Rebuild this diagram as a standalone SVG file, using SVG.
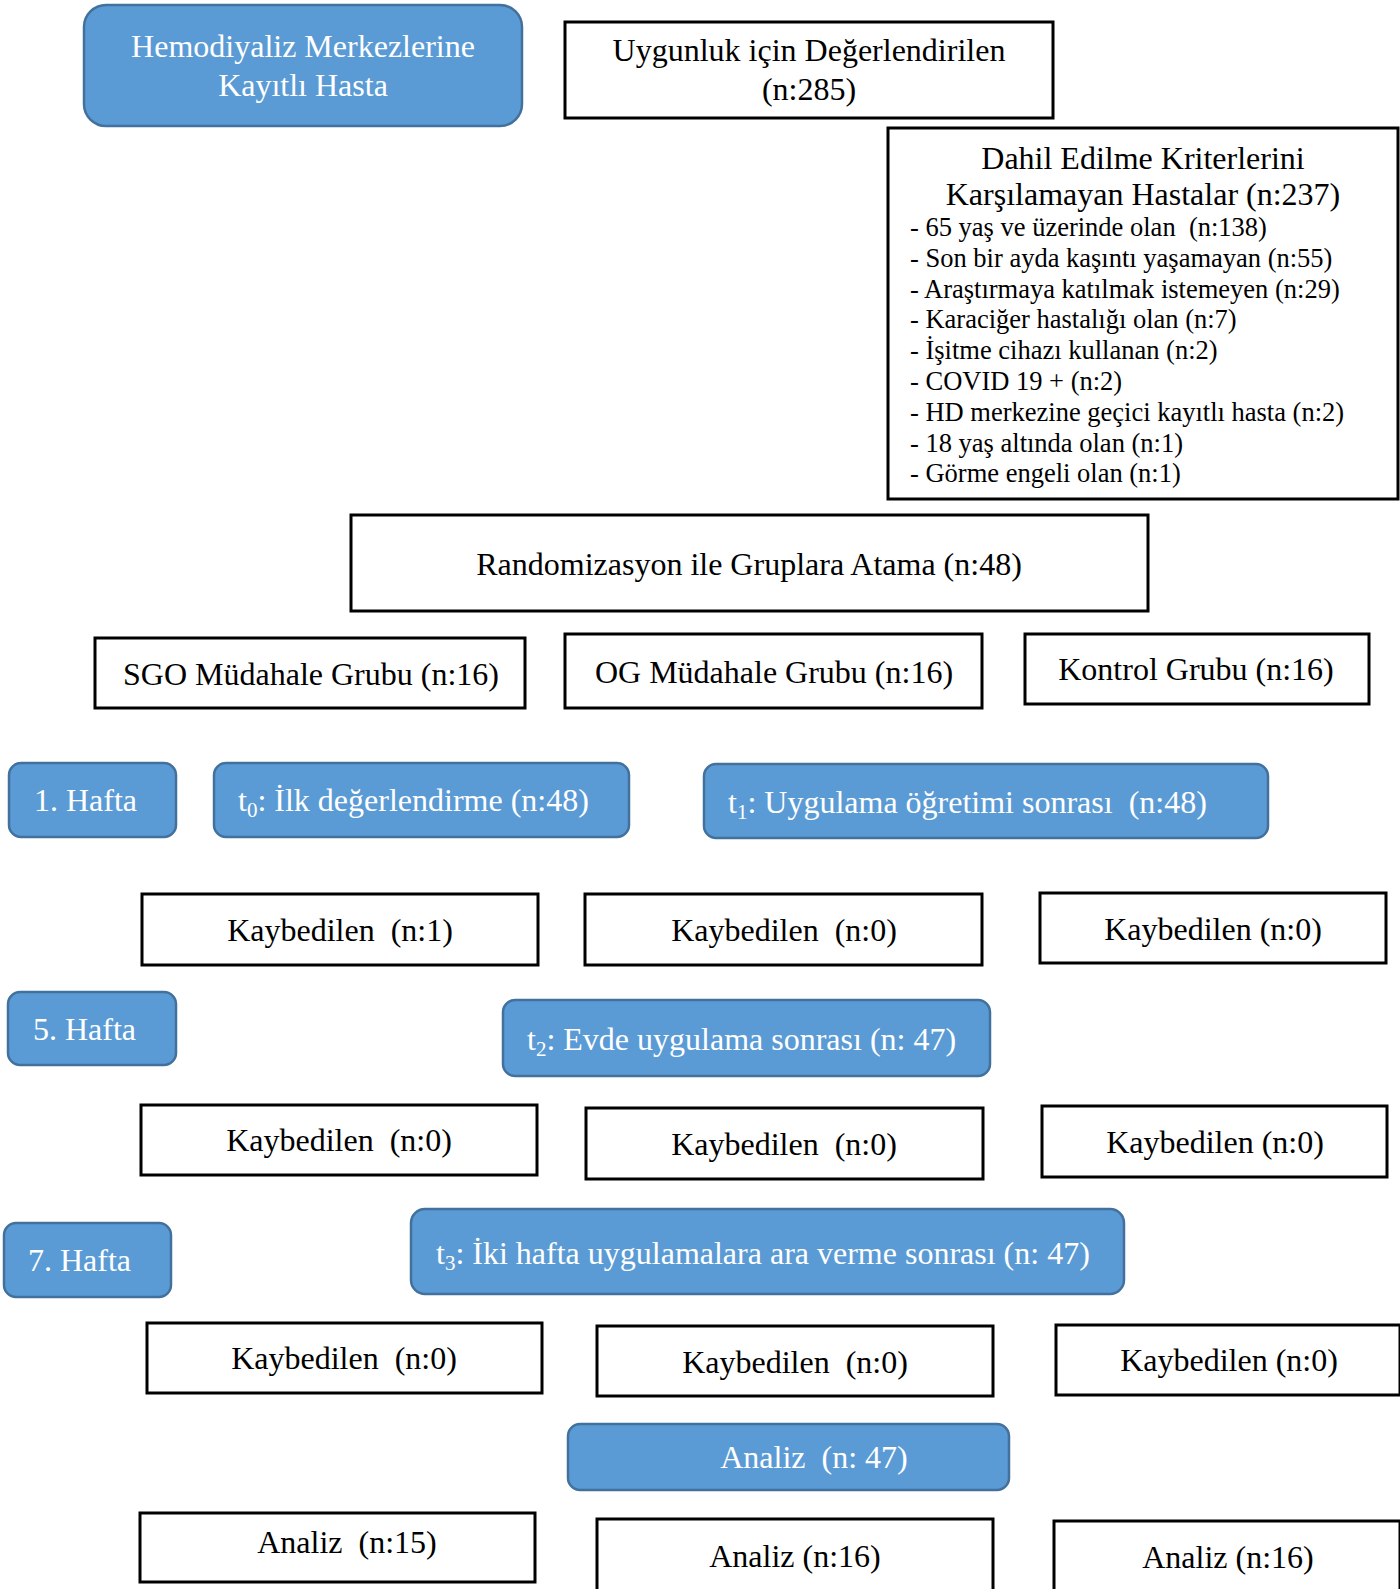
<svg xmlns="http://www.w3.org/2000/svg" width="1400" height="1589" viewBox="0 0 1400 1589">
<style>
text{font-family:"Liberation Serif","Times New Roman",serif;font-size:32px;white-space:pre}
.b{fill:#5B9BD5;stroke:#41719C;stroke-width:2.5}
.w{fill:#ffffff;stroke:#000000;stroke-width:3}
.tw{fill:#ffffff}
.tk{fill:#000000}
.c{text-anchor:middle}
.l{font-size:26.5px}
</style>
<rect width="1400" height="1589" fill="#ffffff"/>
<g id="connectors"></g>
<g id="hemodiyaliz"><rect class="b" x="84" y="5" width="438" height="121" rx="22"/><text class="tw c" x="303" y="57">Hemodiyaliz Merkezlerine</text><text class="tw c" x="303" y="96">Kayıtlı Hasta</text></g>
<g id="uygunluk"><rect class="w" x="565" y="22" width="488" height="96"/><text class="tk c" x="809" y="61">Uygunluk için Değerlendirilen</text><text class="tk c" x="809" y="100">(n:285)</text></g>
<g id="dahil"><rect class="w" x="888" y="128" width="510" height="371"/><text class="tk c" x="1143" y="169">Dahil Edilme Kriterlerini</text><text class="tk c" x="1143" y="205">Karşılamayan Hastalar (n:237)</text>
<text class="tk l" x="910" y="236">- 65 yaş ve üzerinde olan  (n:138)</text>
<text class="tk l" x="910" y="267">- Son bir ayda kaşıntı yaşamayan (n:55)</text>
<text class="tk l" x="910" y="298">- Araştırmaya katılmak istemeyen (n:29)</text>
<text class="tk l" x="910" y="328">- Karaciğer hastalığı olan (n:7)</text>
<text class="tk l" x="910" y="359">- İşitme cihazı kullanan (n:2)</text>
<text class="tk l" x="910" y="390">- COVID 19 + (n:2)</text>
<text class="tk l" x="910" y="421">- HD merkezine geçici kayıtlı hasta (n:2)</text>
<text class="tk l" x="910" y="452">- 18 yaş altında olan (n:1)</text>
<text class="tk l" x="910" y="482">- Görme engeli olan (n:1)</text></g>
<g id="randomizasyon"><rect class="w" x="351" y="515" width="797" height="96"/><text class="tk c" x="749" y="575">Randomizasyon ile Gruplara Atama (n:48)</text></g>
<g id="sgo"><rect class="w" x="95" y="638" width="430" height="70"/><text class="tk c" x="311" y="685">SGO Müdahale Grubu (n:16)</text></g>
<g id="og"><rect class="w" x="565" y="634" width="417" height="74"/><text class="tk c" x="774" y="683">OG Müdahale Grubu (n:16)</text></g>
<g id="kontrol"><rect class="w" x="1025" y="634" width="344" height="70"/><text class="tk c" x="1196" y="680">Kontrol Grubu (n:16)</text></g>
<g id="hafta1"><rect class="b" x="9" y="763" width="167" height="74" rx="12"/><text class="tw" x="34" y="811">1. Hafta</text></g>
<g id="t0"><rect class="b" x="214" y="763" width="415" height="74" rx="12"/><text class="tw" x="238" y="811">t<tspan font-size="21" dy="6">0</tspan><tspan dy="-6">: İlk değerlendirme (n:48)</tspan></text></g>
<g id="t1"><rect class="b" x="704" y="764" width="564" height="74" rx="12"/><text class="tw" x="728" y="813">t<tspan font-size="21" dy="6">1</tspan><tspan dy="-6">: Uygulama öğretimi sonrası  (n:48)</tspan></text></g>
<g id="k11"><rect class="w" x="142" y="894" width="396" height="71"/><text class="tk c" x="340" y="941">Kaybedilen  (n:1)</text></g>
<g id="k12"><rect class="w" x="585" y="894" width="397" height="71"/><text class="tk c" x="784" y="941">Kaybedilen  (n:0)</text></g>
<g id="k13"><rect class="w" x="1040" y="893" width="346" height="70"/><text class="tk c" x="1213" y="940">Kaybedilen (n:0)</text></g>
<g id="hafta5"><rect class="b" x="8" y="992" width="168" height="73" rx="12"/><text class="tw" x="33" y="1040">5. Hafta</text></g>
<g id="t2"><rect class="b" x="503" y="1000" width="487" height="76" rx="12"/><text class="tw" x="527" y="1050">t<tspan font-size="21" dy="6">2</tspan><tspan dy="-6">: Evde uygulama sonrası (n: 47)</tspan></text></g>
<g id="k21"><rect class="w" x="141" y="1105" width="396" height="70"/><text class="tk c" x="339" y="1151">Kaybedilen  (n:0)</text></g>
<g id="k22"><rect class="w" x="586" y="1108" width="397" height="71"/><text class="tk c" x="784" y="1155">Kaybedilen  (n:0)</text></g>
<g id="k23"><rect class="w" x="1042" y="1106" width="345" height="71"/><text class="tk c" x="1215" y="1153">Kaybedilen (n:0)</text></g>
<g id="hafta7"><rect class="b" x="4" y="1223" width="167" height="74" rx="12"/><text class="tw" x="28" y="1271">7. Hafta</text></g>
<g id="t3"><rect class="b" x="411" y="1209" width="713" height="85" rx="14"/><text class="tw" x="436" y="1264">t<tspan font-size="21" dy="6">3</tspan><tspan dy="-6">: İki hafta uygulamalara ara verme sonrası (n: 47)</tspan></text></g>
<g id="k31"><rect class="w" x="147" y="1323" width="395" height="70"/><text class="tk c" x="344" y="1369">Kaybedilen  (n:0)</text></g>
<g id="k32"><rect class="w" x="597" y="1326" width="396" height="70"/><text class="tk c" x="795" y="1373">Kaybedilen  (n:0)</text></g>
<g id="k33"><rect class="w" x="1056" y="1325" width="344" height="70"/><text class="tk c" x="1229" y="1371">Kaybedilen (n:0)</text></g>
<g id="analiz47"><rect class="b" x="568" y="1424" width="441" height="66" rx="12"/><text class="tw c" x="814" y="1468">Analiz  (n: 47)</text></g>
<g id="a1"><rect class="w" x="140" y="1513" width="395" height="69"/><text class="tk c" x="347" y="1553">Analiz  (n:15)</text></g>
<g id="a2"><rect class="w" x="597" y="1519" width="396" height="75"/><text class="tk c" x="795" y="1567">Analiz (n:16)</text></g>
<g id="a3"><rect class="w" x="1054" y="1521" width="346" height="73"/><text class="tk c" x="1228" y="1568">Analiz (n:16)</text></g>
</svg>
